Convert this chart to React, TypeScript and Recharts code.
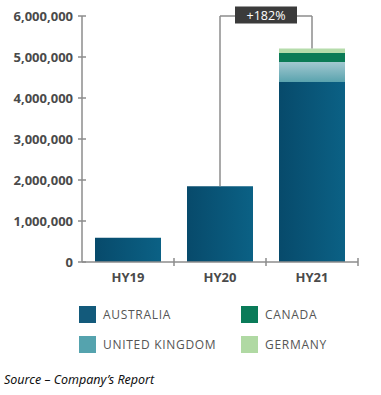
import React from 'react'
import { BarChart, Bar, XAxis, YAxis, ReferenceLine } from 'recharts'

const PERIODS = ['HY19', 'HY20', 'HY21']
const AUSTRALIA = [590000, 1850000, 4390000]
const UNITED_KINGDOM = [0, 0, 490000]
const CANADA = [0, 0, 220000]
const GERMANY = [0, 0, 110000]
const Y_TICKS = [0, 1000000, 2000000, 3000000, 4000000, 5000000, 6000000]

const SERIES = [
  { key: 'australia', name: 'AUSTRALIA', fill: 'url(#gradAus)', swatch: '#135a7b' },
  { key: 'uk', name: 'UNITED KINGDOM', fill: 'url(#gradUk)', swatch: '#55a3ae' },
  { key: 'canada', name: 'CANADA', fill: '#0b7b56', swatch: '#0a7b59' },
  { key: 'germany', name: 'GERMANY', fill: '#b5dcab', swatch: '#b0d9a3' },
]

const data = PERIODS.map((p, i) => ({
  period: p,
  australia: AUSTRALIA[i],
  uk: UNITED_KINGDOM[i],
  canada: CANADA[i],
  germany: GERMANY[i],
}))

const totals = data.map(d => d.australia + d.uk + d.canada + d.germany)
const growth = Math.round((totals[2] / totals[1] - 1) * 100)

const AXIS = '#8c8c8c'
const FONT = '"Open Sans", sans-serif'
const BAND = 92

const YTick = (props: any) => {
  const { x, y, payload } = props
  return (
    <g>
      <line x1={x - 4} x2={x + 4} y1={y} y2={y} stroke={AXIS} strokeWidth={1.5} />
      <text x={x - 9} y={y} dy={4.5} textAnchor="end" fontFamily={FONT} fontWeight={700} fontSize={13} fill="#4a4a4a">
        {payload.value.toLocaleString('en-US')}
      </text>
    </g>
  )
}

const XTick = (props: any) => {
  const { x, y, payload } = props
  return (
    <g>
      <line x1={x + BAND / 2} x2={x + BAND / 2} y1={y - 4} y2={y + 4} stroke={AXIS} strokeWidth={1.5} />
      <text x={x} y={y + 20} textAnchor="middle" fontFamily={FONT} fontWeight={700} fontSize={13} fill="#4a4a4a">
        {payload.value}
      </text>
    </g>
  )
}

const GrowthLabel = (props: any) => {
  const vb = props.viewBox || {}
  const cx = vb.x1 !== undefined ? (vb.x1 + vb.x2) / 2 : vb.x + (vb.width || 0) / 2
  const cy = vb.y1 !== undefined ? vb.y1 : vb.y
  return (
    <g>
      <rect x={cx - 31} y={cy - 9.5} width={62} height={17} fill="#3b3b3b" />
      <text x={cx} y={cy} dy={4} textAnchor="middle" fontFamily={FONT} fontSize={12.5} fill="#ffffff">
        +{growth}%
      </text>
    </g>
  )
}

export default function App() {
  return (
    <div style={{ position: 'absolute', left: 0, top: 0, width: 381, height: 395, background: '#fff' }}>
      <BarChart width={381} height={290} data={data} margin={{ top: 16, right: 23, left: 0, bottom: 0 }} barSize={66}>
        <defs>
          <linearGradient id="gradAus" x1="0" y1="0" x2="1" y2="0">
            <stop offset="0%" stopColor="#074a6b" />
            <stop offset="100%" stopColor="#0b6185" />
          </linearGradient>
          <linearGradient id="gradUk" x1="0" y1="0" x2="0" y2="1">
            <stop offset="0%" stopColor="#a3c9d1" />
            <stop offset="100%" stopColor="#5aa3ae" />
          </linearGradient>
        </defs>
        <XAxis
          dataKey="period"
          height={28}
          axisLine={{ stroke: AXIS, strokeWidth: 1.5 }}
          tickLine={false}
          tickSize={0}
          tickMargin={0}
          tick={<XTick />}
          interval={0}
        />
        <YAxis
          width={82}
          domain={[0, 6000000]}
          ticks={Y_TICKS}
          axisLine={{ stroke: AXIS, strokeWidth: 1.5 }}
          tickLine={false}
          tickSize={0}
          tickMargin={0}
          tick={<YTick />}
          interval={0}
        />
        {SERIES.map(s => (
          <Bar key={s.key} dataKey={s.key} stackId="a" fill={s.fill} isAnimationActive={false} />
        ))}
        <ReferenceLine
          segment={[{ x: 'HY20', y: totals[1] }, { x: 'HY20', y: 6000000 }]}
          stroke={AXIS}
          strokeWidth={1.5}
        />
        <ReferenceLine
          segment={[{ x: 'HY21', y: totals[2] }, { x: 'HY21', y: 6000000 }]}
          stroke={AXIS}
          strokeWidth={1.5}
        />
        <ReferenceLine
          segment={[{ x: 'HY20', y: 6000000 }, { x: 'HY21', y: 6000000 }]}
          stroke={AXIS}
          strokeWidth={1.5}
          label={<GrowthLabel />}
        />
      </BarChart>
      <div
        style={{
          position: 'absolute', left: 79, top: 306,
          display: 'grid', gridTemplateColumns: '162px 140px', rowGap: 13,
          fontFamily: FONT, fontSize: 12, letterSpacing: 0.7, color: '#555',
        }}
      >
        {SERIES.map((s, i) => (
          <div key={s.key} style={{ display: 'flex', alignItems: 'center', height: 17, order: [0, 2, 1, 3][i] }}>
            <span style={{ width: 17, height: 17, background: s.swatch, display: 'inline-block', marginRight: 7 }} />
            <span>{s.name}</span>
          </div>
        ))}
      </div>
      <div
        style={{
          position: 'absolute', left: 4, top: 371,
          fontFamily: '"Noto Sans", sans-serif', fontStyle: 'italic', fontSize: 12.5, color: '#111',
        }}
      >
        Source – Company’s Report
      </div>
    </div>
  )
}
